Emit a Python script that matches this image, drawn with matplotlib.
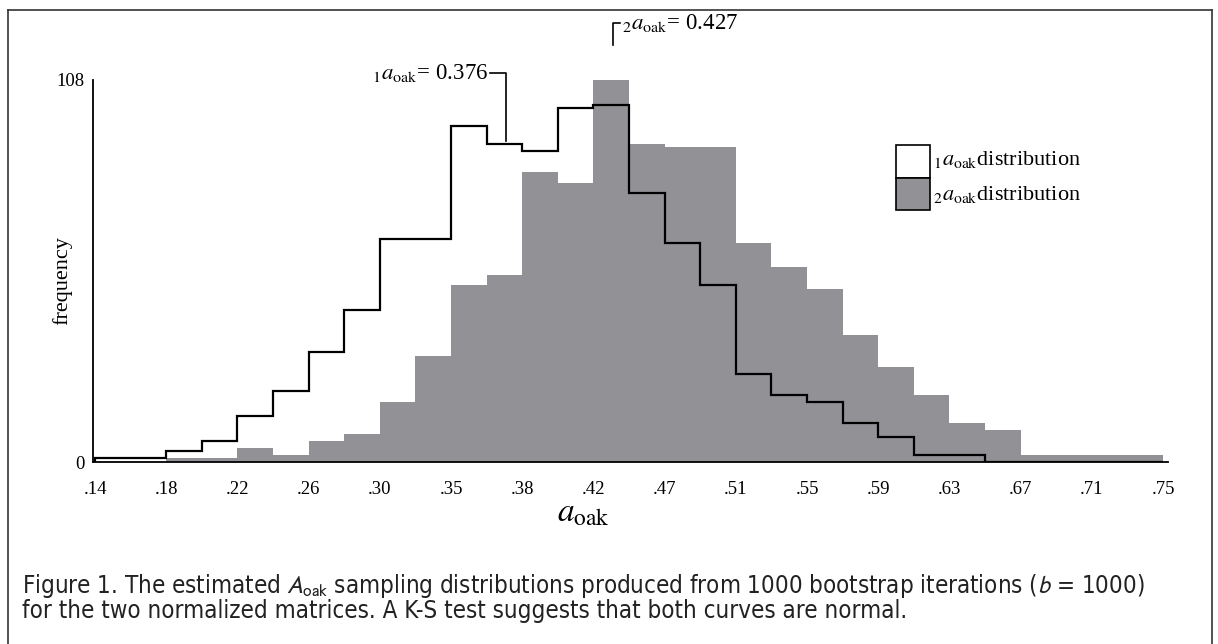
import matplotlib
matplotlib.use("Agg")
import matplotlib.pyplot as plt
import numpy as np
from matplotlib.lines import Line2D
from matplotlib.patches import Rectangle

plt.rcParams['mathtext.fontset'] = 'stix'
plt.rcParams['font.family'] = ['Liberation Serif', 'DejaVu Serif']

# bootstrap histograms, 30 equal bins from .14 to .75
tick_labels = ['.14', '.18', '.22', '.26', '.30', '.35', '.38', '.42',
               '.47', '.51', '.55', '.59', '.63', '.67', '.71', '.75']
dist1 = [1, 1, 3, 6, 13, 20, 31, 43, 63, 63, 95, 90, 88, 100, 101,
         76, 62, 50, 25, 19, 17, 11, 7, 2, 2, 0, 0, 0, 0, 0]
dist2 = [0, 0, 1, 1, 4, 2, 6, 8, 17, 30, 50, 53, 82, 79, 108,
         90, 89, 89, 62, 55, 49, 36, 27, 19, 11, 9, 2, 2, 2, 2]
mean1_text = '0.376'
mean2_text = '0.427'
mean1_bin = 11.55   # where the bracket points (in bin units)
mean2_bin = 14.55

gray = '#929296'
edges = np.arange(len(dist1) + 1)

fig = plt.figure(figsize=(12.18, 6.44), dpi=100)
ax = fig.add_axes([0.0764, 0.2826, 0.8826, 0.5932])

ax.stairs(dist2, edges, fill=True, color=gray, zorder=1)
ax.stairs(dist1, edges, color='black', lw=1.6, zorder=2)

ax.set_xlim(-0.056, 30.14)
ax.set_ylim(0, 108)
ax.set_xticks(np.arange(0, 31, 2))
ax.set_xticklabels(tick_labels)
ax.set_yticks([0, 108])
ax.tick_params(length=0, labelsize=13.5)
ax.tick_params(axis='x', pad=14)
ax.tick_params(axis='y', pad=6)
for s in ['top', 'right']:
    ax.spines[s].set_visible(False)
for s in ['left', 'bottom']:
    ax.spines[s].set_linewidth(1.3)

ax.set_ylabel('frequency', fontsize=16)
ax.yaxis.set_label_coords(-0.0195, 0.476)
fig.text(0.479, 0.203, r'$\mathit{a}_{\mathrm{oak}}$', fontsize=24,
         ha='center', va='center')

# mean markers
ax.text(11.05, 110, r'${}_1\mathit{a}_{\mathrm{oak}}$= ' + mean1_text,
        fontsize=16.5, ha='right', va='center', clip_on=False)
ax.plot([11.08, mean1_bin, mean1_bin], [110, 110, dist1[11] + 0.8],
        color='black', lw=1.2, clip_on=False)
ax.plot([mean2_bin, mean2_bin, mean2_bin + 0.2], [118, 124, 124],
        color='black', lw=1.2, clip_on=False)
ax.text(mean2_bin + 0.25, 124.2, r'${}_2\mathit{a}_{\mathrm{oak}}$= ' + mean2_text,
        fontsize=16.5, ha='left', va='center', clip_on=False)

# legend boxes
ax.add_patch(Rectangle((22.5, 80.3), 0.95, 9.3, facecolor='white',
                       edgecolor='black', lw=1.2, zorder=3))
ax.add_patch(Rectangle((22.5, 71.2), 0.95, 9.1, facecolor=gray,
                       edgecolor='black', lw=1.2, zorder=3))
ax.text(23.55, 85.4, r'${}_1\mathit{a}_{\mathrm{oak}}$distribution',
        fontsize=16, va='center')
ax.text(23.55, 75.5, r'${}_2\mathit{a}_{\mathrm{oak}}$distribution',
        fontsize=16, va='center')

# page frame
fig.add_artist(Line2D([8/1218, 1212/1218], [1 - 10/644, 1 - 10/644], color='#333333', lw=1.2))
fig.add_artist(Line2D([8/1218, 8/1218], [1 - 10/644, 0], color='#333333', lw=1.2))
fig.add_artist(Line2D([1212/1218, 1212/1218], [1 - 10/644, 0], color='#333333', lw=1.2))

# caption
cap_font = ['Liberation Sans Narrow', 'DejaVu Sans']
line1 = (r'Figure 1. The estimated $A_{\mathrm{oak}}$ sampling distributions produced '
         r'from 1000 bootstrap iterations ($b$ = 1000)')
line2 = 'for the two normalized matrices. A K-S test suggests that both curves are normal.'
c1 = fig.text(22/1218, 1 - 586/644, line1, fontsize=15, family=cap_font,
              stretch='condensed', math_fontfamily='stixsans', va='center',
              color='#222222')
c2 = fig.text(22/1218, 1 - 611/644, line2, fontsize=15, family=cap_font,
              stretch='condensed', va='center', color='#222222')
fig.canvas.draw()
w = c1.get_window_extent().width
fs = 15 * 1127 / w
c1.set_fontsize(fs)
c2.set_fontsize(fs)

fig.savefig('out.png', dpi=100)
